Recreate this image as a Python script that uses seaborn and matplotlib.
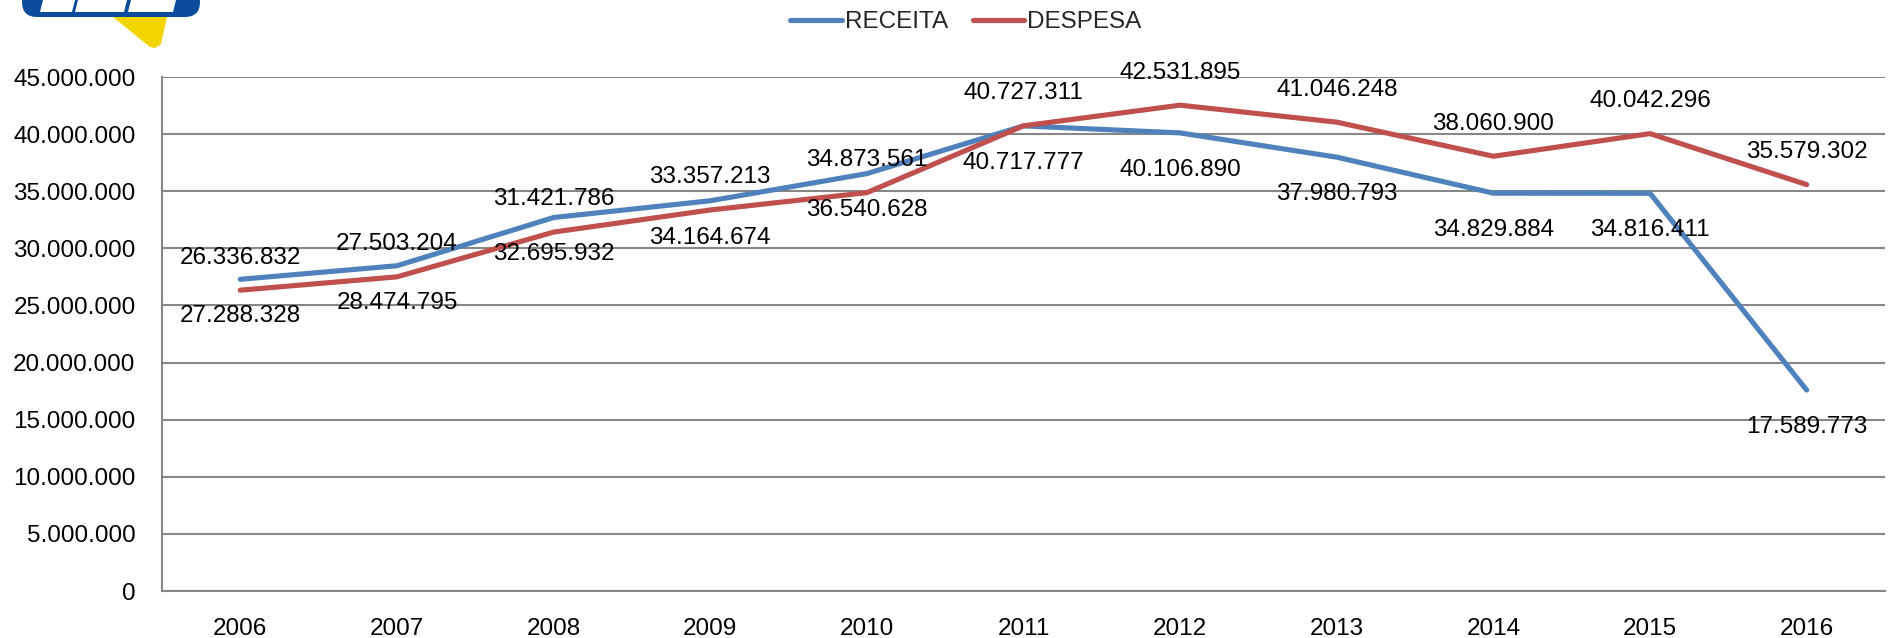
import matplotlib
matplotlib.use("Agg")
import matplotlib.pyplot as plt
import seaborn as sns
import pandas as pd
import numpy as np
from matplotlib.patches import FancyBboxPatch, Polygon
from matplotlib.ticker import FuncFormatter, FixedLocator
from matplotlib.lines import Line2D

years = [2006, 2007, 2008, 2009, 2010, 2011, 2012, 2013, 2014, 2015, 2016]
receita = [27288328, 28474795, 32695932, 34164674, 36540628, 40717777,
           40106890, 37980793, 34829884, 34816411, 17589773]
despesa = [26336832, 27503204, 31421786, 33357213, 34873561, 40727311,
           42531895, 41046248, 38060900, 40042296, 35579302]
series_names = ["RECEITA", "DESPESA"]
colors = ["#4F81BD", "#C0504D"]

sns.set_theme(style="white")
plt.rcParams['font.family'] = ['Liberation Sans', 'DejaVu Sans']

df = pd.DataFrame({
    "ano": years * 2,
    "valor": receita + despesa,
    "serie": [series_names[0]] * len(years) + [series_names[1]] * len(years),
})

W, H = 1890, 638
fig = plt.figure(figsize=(W / 100, H / 100), dpi=100)
ax = fig.add_axes([162 / W, 1 - 591 / H, (1885 - 162) / W, (591 - 77) / H])

sns.lineplot(data=df, x="ano", y="valor", hue="serie", palette=colors,
             linewidth=3.7, ax=ax, legend=False, sort=False,
             solid_capstyle="round", solid_joinstyle="round")

FS = 17.5
ax.set_xlim(2005.5, 2016.5)
ax.set_ylim(0, 45000000)
ax.set_yticks(np.arange(0, 45000001, 5000000))
ax.yaxis.set_major_formatter(FuncFormatter(lambda v, p: f"{int(v):,}".replace(",", ".")))
ax.set_xticks(years)
ax.set_xticklabels([str(y) for y in years])
ax.xaxis.set_minor_locator(FixedLocator([y + 0.5 for y in [2005] + years]))
ax.tick_params(axis="x", which="major", length=0, labelsize=FS, pad=19.5, colors="black")
ax.tick_params(axis="x", which="minor", length=6, width=1.5, color="#878787", direction="out")
ax.tick_params(axis="y", which="major", length=6, width=1.5, color="#878787",
               labelsize=FS, pad=13, direction="out", labelcolor="black")
ax.set_xlabel("")
ax.set_ylabel("")
ax.grid(axis="y", color="#878787", linewidth=1.5)
ax.grid(axis="x", visible=False)
for s in ["top", "right"]:
    ax.spines[s].set_visible(False)
for s in ["left", "bottom"]:
    ax.spines[s].set_color("#878787")
    ax.spines[s].set_linewidth(1.5)

fmt = lambda v: f"{v:,}".replace(",", ".")
for x, v in zip(years, despesa):
    ax.annotate(fmt(v), (x, v), xytext=(0, 23.5), textcoords="offset points",
                ha="center", va="center", fontsize=FS, color="black")
for x, v in zip(years, receita):
    ax.annotate(fmt(v), (x, v), xytext=(0, -26.5), textcoords="offset points",
                ha="center", va="center", fontsize=FS, color="black")

# legend
handles = [Line2D([0], [0], color=c, lw=3.7, solid_capstyle="round") for c in colors]
fig.legend(handles, series_names, loc="center", bbox_to_anchor=(966 / W, 1 - 22 / H),
           ncol=2, frameon=False, fontsize=FS, handlelength=2.1, handletextpad=0.15,
           columnspacing=1.0, borderpad=0, borderaxespad=0)

# logo (partial, top-left)
blue = FancyBboxPatch((22 / W, 1 - 17 / H), 178 / W, 40 / H,
                      boxstyle="round,pad=0,rounding_size=0.008",
                      transform=fig.transFigure, facecolor="#0B4D9C",
                      edgecolor="none", zorder=5, mutation_aspect=2.96)
fig.patches.append(blue)
tri = Polygon([(113 / W, 1 - 17 / H), (167 / W, 1 - 17 / H),
               (161 / W, 1 - 44 / H), (155 / W, 1 - 48 / H), (150 / W, 1 - 47 / H)],
              closed=True, transform=fig.transFigure, facecolor="#F2D500",
              edgecolor="none", zorder=4)
fig.patches.append(tri)
for x0, x1 in [(43, 72), (78, 124), (131, 173)]:
    piece = Polygon([(x0 / W, 1), (x1 / W + 3 / W, 1), (x1 / W, 1 - 12 / H), (x0 / W - 3 / W, 1 - 12 / H)],
                    closed=True, transform=fig.transFigure, facecolor="white",
                    edgecolor="none", zorder=6)
    fig.patches.append(piece)

fig.savefig("out.png", dpi=100)
